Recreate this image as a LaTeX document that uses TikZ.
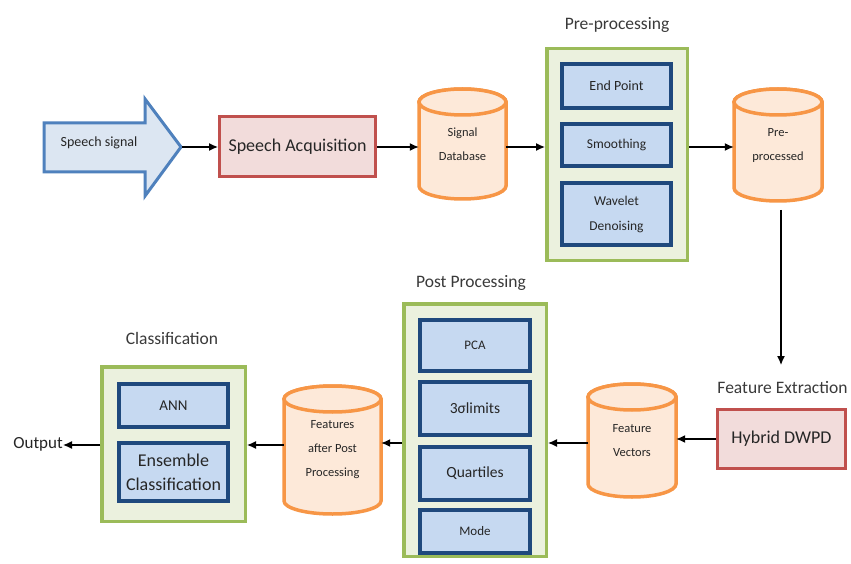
\documentclass[tikz,border=0pt]{standalone}
\usepackage{fontspec}
\setmainfont{Carlito}
\usetikzlibrary{arrows.meta}
\definecolor{gborder}{HTML}{9BBB59}
\definecolor{gfill}{HTML}{EBF1DE}
\definecolor{bborder}{HTML}{1F497D}
\definecolor{bfill}{HTML}{C6D9F1}
\definecolor{rborder}{HTML}{C0504D}
\definecolor{rfill}{HTML}{F2DCDB}
\definecolor{oborder}{HTML}{F79646}
\definecolor{ofill}{HTML}{FDE9D9}
\definecolor{sborder}{HTML}{4F81BD}
\definecolor{sfill}{HTML}{DCE6F2}
\definecolor{txt}{HTML}{262626}
\definecolor{ttl}{HTML}{3A3A3A}
\tikzset{
  group/.style={draw=gborder, fill=gfill, line width=3.5pt, inner sep=0pt},
  inbox/.style={draw=bborder, fill=bfill, line width=4pt, inner sep=0pt, align=center, text=txt},
  redbox/.style={draw=rborder, fill=rfill, line width=3pt, inner sep=0pt, align=center, text=txt, font=\fontsize{18}{22}\selectfont},
  title/.style={text=ttl, font=\fontsize{17.5}{21}\selectfont, inner sep=0pt},
  cylline/.style={draw=oborder, fill=ofill, line width=3.5pt},
  cyltext/.style={inner sep=0pt, align=center, text=txt, font=\fontsize{12.5}{24}\selectfont},
  arr/.style={draw=black, line width=1.3pt, -{Latex[length=9pt,width=8pt]}},
}
\newcommand{\mycyl}[6]{%
  \draw[cylline] (#2,#4+13) -- (#2,#5-13)
     arc[start angle=180,end angle=360,x radius={(#3-#2)/2*1pt},y radius=13pt]
     -- (#3,#4+13)
     arc[start angle=0,end angle=180,x radius={(#3-#2)/2*1pt},y radius=13pt] -- cycle;
  \draw[cylline] ({(#2+#3)/2},#4+13) ellipse[x radius={(#3-#2)/2*1pt},y radius=13pt];
  \node[cyltext, minimum width={(#3-#2)*1pt}, minimum height={(#5-#4)*1pt}] (#1) at ({(#2+#3)/2},{(#4+#5)/2}) {#6};%
}
\begin{document}
\begin{tikzpicture}[x=1pt,y=-1pt]
\useasboundingbox[fill=white] (0,0) rectangle (851,564);

% Speech signal arrow
\draw[draw=sborder, fill=sfill, line width=3pt, line join=miter]
  (44,123) -- (145,123) -- (145,99) -- (181,147) -- (145,196) -- (145,172) -- (44,172) -- cycle;
\node[text=txt, font=\fontsize{14}{16}\selectfont, inner sep=0pt] (sig) at (99,143) {Speech signal};
\coordinate (sigtip) at (182,147);

% Speech Acquisition
\node[redbox, minimum width=156pt, minimum height=60pt] (acq) at (297.5,146.5) {Speech Acquisition};

% Signal Database
\mycyl{sigdb}{419}{506}{89}{199}{Signal\\Database}

% Pre-processing group
\node[title] (pretitle) at (617,25) {Pre-processing};
\node[group, minimum width=140.5pt, minimum height=211.5pt] (pre) at (617,154.5) {};
\node[inbox, minimum width=109pt, minimum height=44pt, font=\fontsize{14}{16}\selectfont] (endp) at (616.5,86) {End Point};
\node[inbox, minimum width=109pt, minimum height=42pt, font=\fontsize{13.5}{16}\selectfont] (smooth) at (616.5,145) {Smoothing};
\node[inbox, minimum width=109pt, minimum height=62pt, font=\fontsize{13.5}{25}\selectfont] (wave) at (616.5,214) {Wavelet\\Denoising};

% Pre-processed
\mycyl{preproc}{734}{822}{89}{201}{Pre-\\processed}

% Feature extraction
\node[title] (fetitle) at (782.5,388) {Feature Extraction};
\node[redbox, minimum width=128pt, minimum height=59pt] (hybrid) at (781.5,439) {Hybrid DWPD};
\coordinate (fetop) at (781,210);
\coordinate (fedown) at (781,365);

% Feature Vectors
\mycyl{fv}{588}{676}{384}{497}{Feature\\Vectors}

% Post processing group
\node[title] (posttitle) at (471,283) {Post Processing};
\node[group, minimum width=142.5pt, minimum height=252.5pt] (post) at (475,430) {};
\node[inbox, minimum width=110pt, minimum height=51pt, font=\fontsize{13}{16}\selectfont] (pca) at (475,345.5) {PCA};
\node[inbox, minimum width=110pt, minimum height=53pt, font=\fontsize{15.5}{18}\selectfont] (sigma) at (475,408.5) {3σlimits};
\node[inbox, minimum width=110pt, minimum height=53pt, font=\fontsize{15.5}{18}\selectfont] (quart) at (475,473.5) {Quartiles};
\node[inbox, minimum width=110pt, minimum height=43pt, font=\fontsize{13}{16}\selectfont] (mode) at (475,531.5) {Mode};

% Features after Post Processing
\mycyl{fapp}{284}{381}{386}{514}{Features\\after Post\\Processing}

% Classification group
\node[title] (cltitle) at (172,338) {Classification};
\node[group, minimum width=143.5pt, minimum height=154.5pt] (class) at (173.5,444) {};
\node[inbox, minimum width=109pt, minimum height=43pt, font=\fontsize{15}{18}\selectfont] (ann) at (173.5,405.5) {ANN};
\node[inbox, minimum width=109pt, minimum height=58pt, font=\fontsize{18}{24}\selectfont] (ens) at (173.5,472) {Ensemble\\Classification};

% Output
\node[text=txt, font=\fontsize{17}{20}\selectfont, inner sep=0pt, anchor=east] (out) at (63,444) {Output};

% Connectors
\draw[arr] (sigtip) -- (sigtip -| acq.west);
\draw[arr] (acq.east |- sigtip) -- (sigtip -| sigdb.west);
\draw[arr] (sigdb.east |- sigtip) -- (sigtip -| pre.west);
\draw[arr] (pre.east |- sigtip) -- (sigtip -| preproc.west);
\draw[arr] (fetop) -- (fedown);
\draw[arr] (hybrid.west) -- (hybrid.west -| fv.east);
\draw[arr] (fv.west |- 0,443) -- (post.east |- 0,443);
\draw[arr] (post.west |- 0,443) -- (fapp.east |- 0,443);
\draw[arr] (fapp.west |- 0,445) -- (class.east |- 0,445);
\draw[arr] (class.west |- 0,445) -- (out.east |- 0,445);
\end{tikzpicture}
\end{document}
